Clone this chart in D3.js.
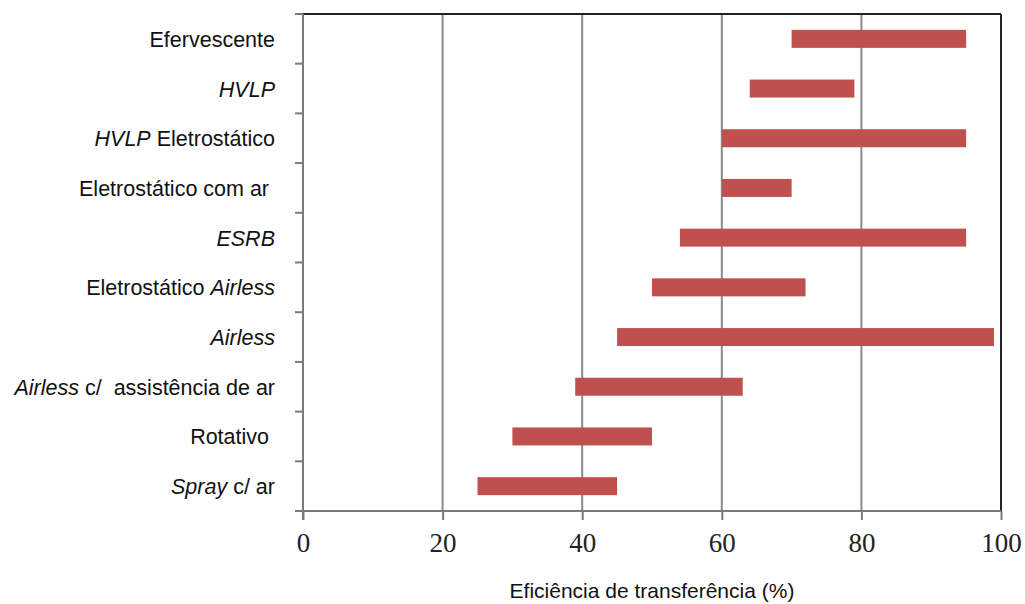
<!DOCTYPE html>
<html><head><meta charset="utf-8">
<script src="https://cdn.jsdelivr.net/npm/d3@7"></script>
<style>body{margin:0;background:#fff}</style>
</head><body>
<svg id="c" width="1025" height="604"></svg>
<script>
// label parts: [text, italic]
const categories = [
  [["Efervescente",false]],
  [["HVLP",true]],
  [["HVLP",true],[" Eletrostático",false]],
  [["Eletrostático com ar ",false]],
  [["ESRB",true]],
  [["Eletrostático ",false],["Airless",true]],
  [["Airless",true]],
  [["Airless",true],[" c/  assistência de ar",false]],
  [["Rotativo ",false]],
  [["Spray",true],[" c/ ar",false]]
];
const minValues = [70, 64, 60, 60, 54, 50, 45, 39, 30, 25];
const maxValues = [95, 79, 95, 70, 95, 72, 99, 63, 50, 45];
const xTicks = [0, 20, 40, 60, 80, 100];
const xTitle = "Eficiência de transferência (%)";

const svg = d3.select("#c");
const L = 303, R = 1001, T = 14, B = 511;
const x = d3.scaleLinear().domain([0,100]).range([L,R]);
const idx = d3.range(categories.length);
const y = d3.scaleBand().domain(idx).range([T,B]);

// grid
svg.append("g").selectAll("line").data(xTicks.slice(1,-1)).join("line")
  .attr("x1",d=>x(d)).attr("x2",d=>x(d)).attr("y1",T).attr("y2",B)
  .attr("stroke","#8a8a8a").attr("stroke-width",2);

// bars
svg.append("g").selectAll("rect").data(idx).join("rect")
  .attr("x",i=>x(minValues[i])).attr("width",i=>x(maxValues[i])-x(minValues[i]))
  .attr("y",i=>y(i)+y.bandwidth()/2-9).attr("height",18)
  .attr("fill","#c0504d");

// borders
svg.append("line").attr("x1",L).attr("x2",R).attr("y1",T).attr("y2",T).attr("stroke","#222").attr("stroke-width",2);
svg.append("line").attr("x1",R).attr("x2",R).attr("y1",T).attr("y2",B).attr("stroke","#222").attr("stroke-width",2);

// x axis
const xAxis = d3.axisBottom(x).tickValues(xTicks).tickSize(9).tickSizeOuter(0).tickPadding(13);
const gx = svg.append("g").attr("transform",`translate(0,${B})`).call(xAxis);
gx.select(".domain").attr("stroke","#7a7a7a").attr("stroke-width",2).attr("d",`M${L-8},0H${R}`);
gx.selectAll(".tick line").attr("stroke","#7a7a7a").attr("stroke-width",2);
gx.selectAll(".tick text").attr("font-family","'Liberation Serif','Times New Roman',serif")
  .attr("font-size",27).attr("fill","#222");

// y axis ticks at band boundaries
const bounds = d3.range(categories.length+1).map(i=>T + i*y.step());
svg.append("line").attr("x1",L).attr("x2",L).attr("y1",T).attr("y2",B+9).attr("stroke","#7a7a7a").attr("stroke-width",2);
svg.append("g").selectAll("line").data(bounds).join("line")
  .attr("x1",L-8).attr("x2",L).attr("y1",d=>d).attr("y2",d=>d)
  .attr("stroke","#7a7a7a").attr("stroke-width",2);

// category labels
const lab = svg.append("g").selectAll("text").data(idx).join("text")
  .attr("x",275).attr("y",i=>y(i)+y.bandwidth()/2+2)
  .attr("text-anchor","end").attr("dominant-baseline","middle")
  .attr("font-family","'Liberation Sans Narrow','Liberation Sans',Arial,sans-serif")
  .attr("font-size",21.5).attr("fill","#111")
  .style("white-space","pre");
lab.each(function(i){
  const t = d3.select(this);
  categories[i].forEach(p=>{
    t.append("tspan").text(p[0]).attr("font-style",p[1]?"italic":"normal");
  });
});

// title
svg.append("text").attr("x",652).attr("y",598)
  .attr("text-anchor","middle")
  .attr("font-family","'Liberation Sans Narrow','Liberation Sans',Arial,sans-serif")
  .attr("font-size",21).attr("fill","#111").text(xTitle);
</script>
</body></html>
